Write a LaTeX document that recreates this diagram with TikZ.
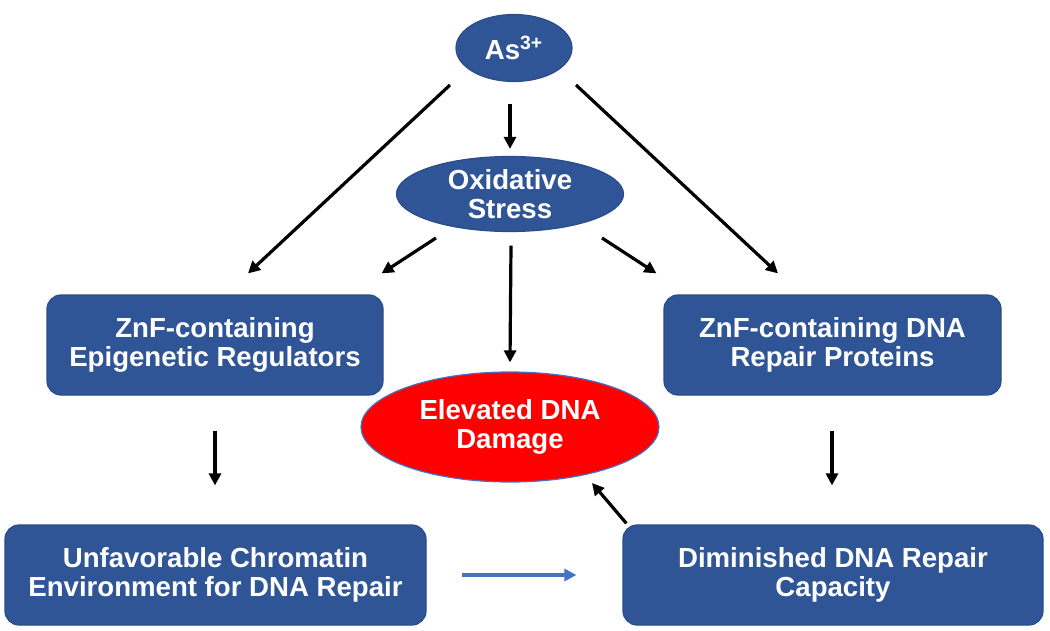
\documentclass[tikz,border=0pt]{standalone}
\usepackage{fontspec}
\setmainfont{Liberation Sans}
\usepackage{xcolor}
\usepackage{tikz}
\usetikzlibrary{shapes,arrows,positioning,calc,arrows.meta}
\definecolor{boxblue}{HTML}{2F5597}
\definecolor{edgeblue}{HTML}{2A4D8A}
\definecolor{linkblue}{HTML}{4472C4}
\definecolor{damagered}{HTML}{FF0000}

\begin{document}
\begin{tikzpicture}[
    x=0.5pt, y=-0.5pt,
    every node/.style={font=\fontsize{13.8}{14.8}\selectfont\bfseries, text=white, align=center, inner sep=0pt},
    bluebox/.style={rectangle, rounded corners=7pt, fill=boxblue, draw=edgeblue, line width=0.6pt},
    blueoval/.style={ellipse, fill=boxblue, draw=edgeblue, line width=0.6pt},
    redoval/.style={ellipse, fill=damagered, draw=linkblue, line width=0.6pt},
    arr/.style={draw=black, line width=1.6pt, -{Triangle[length=6pt,width=6pt]}},
    bluearr/.style={draw=linkblue, line width=1.6pt, -{Triangle[length=6pt,width=6pt]}}
]
    \useasboundingbox (0,0) rectangle (1050,631);
    \fill[white] (0,0) rectangle (1050,631);

    % nodes
    \node[blueoval, minimum width=58pt, minimum height=33.5pt] (as) at (514,48) {As\textsuperscript{3+}};
    \node[blueoval, minimum width=113.5pt, minimum height=37.5pt] (ox) at (510,194) {Oxidative\\Stress};
    \node[bluebox, minimum width=168pt, minimum height=50pt] (epi) at (215,345) {ZnF-containing\\Epigenetic Regulators};
    \node[bluebox, minimum width=168.5pt, minimum height=50pt] (rep) at (832.5,345) {ZnF-containing DNA\\Repair Proteins};
    \node[redoval, minimum width=149pt, minimum height=55pt] (dmg) at (510,427) {Elevated DNA\\Damage};
    \node[bluebox, minimum width=210.5pt, minimum height=50pt] (chr) at (215.5,575) {Unfavorable Chromatin\\Environment for DNA Repair};
    \node[bluebox, minimum width=210pt, minimum height=50pt] (cap) at (833,575) {Diminished DNA Repair\\Capacity};

    % arrows
    \draw[arr] ($(as.center)+(-64,37)$) -- ($(epi.north)+(33,-21)$);
    \draw[arr] ($(as.south)+(-4,21.5)$) -- ($(ox.north)+(0,-7)$);
    \draw[arr] ($(as.center)+(62,37)$) -- ($(rep.north)+(-54.5,-21)$);
    \draw[arr] ($(ox.center)+(-74,44)$) -- ($(epi.north east)+(-2,-21)$);
    \draw[arr] ($(ox.south)+(1,13.5)$) -- ($(dmg.north)+(0,-9)$);
    \draw[arr] ($(ox.center)+(92,44)$) -- ($(rep.north west)+(-7,-21)$);
    \draw[arr] ($(epi.south)+(0,35)$) -- ($(chr.north)+(-0.5,-39)$);
    \draw[arr] ($(rep.south)+(-0.5,35)$) -- ($(cap.north)+(-1,-39)$);
    \draw[bluearr] ($(chr.east)+(35,0)$) -- ($(cap.west)+(-46,0)$);
    \draw[arr] ($(cap.north west)+(4,-1)$) -- ($(dmg.center)+(82,56)$);
\end{tikzpicture}
\end{document}
